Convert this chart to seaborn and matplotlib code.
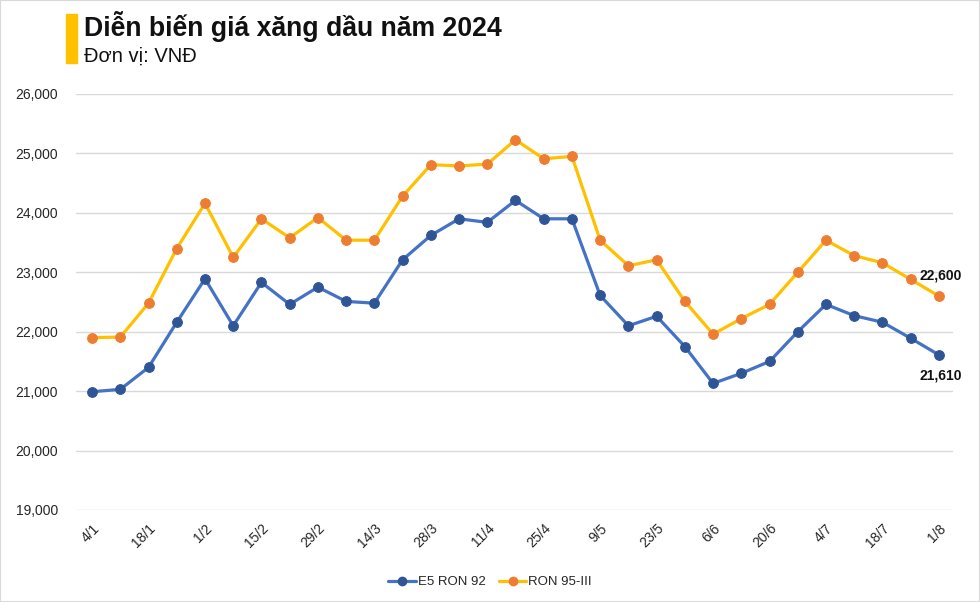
import matplotlib.pyplot as plt
import seaborn as sns
import pandas as pd
from matplotlib.lines import Line2D
from matplotlib.patches import Rectangle
from matplotlib.ticker import FuncFormatter

sns.set_theme(style="white")
plt.rcParams['font.family'] = ['Liberation Sans', 'DejaVu Sans']

# weekly price adjustments, 2024
dates = ["4/1", "11/1", "18/1", "25/1", "1/2", "8/2", "15/2", "22/2", "29/2", "7/3",
         "14/3", "21/3", "28/3", "4/4", "11/4", "18/4", "25/4", "2/5", "9/5", "16/5",
         "23/5", "30/5", "6/6", "13/6", "20/6", "27/6", "4/7", "11/7", "18/7", "25/7", "1/8"]
e5_ron92 = [20990, 21030, 21400, 22160, 22890, 22100, 22830, 22460, 22750, 22510,
            22480, 23210, 23620, 23900, 23840, 24210, 23900, 23900, 22610, 22100,
            22260, 21750, 21130, 21300, 21500, 22000, 22460, 22270, 22160, 21890, 21610]
ron95_iii = [21900, 21910, 22480, 23400, 24160, 23250, 23900, 23580, 23920, 23540,
             23540, 24280, 24810, 24790, 24820, 25230, 24910, 24950, 23540, 23110,
             23210, 22510, 21960, 22220, 22460, 23000, 23540, 23280, 23160, 22880, 22600]
series_names = ["E5 RON 92", "RON 95-III"]
yticks = list(range(19000, 26001, 1000))

df = pd.DataFrame({"pos": range(len(dates)), "date": dates,
                   "e5": e5_ron92, "ron95": ron95_iii})

blue_line, blue_mk = "#4472C4", "#2F5597"
yel_line, org_mk = "#FFC000", "#ED7D31"

fig = plt.figure(figsize=(9.8, 6.02), dpi=100)
ax = fig.add_axes([76 / 980, 1 - 510 / 602, (953 - 76) / 980, (510 - 94) / 602])

sns.lineplot(data=df, x="pos", y="e5", ax=ax, color=blue_line, lw=2.3, marker="o",
             markersize=7, markerfacecolor=blue_mk, markeredgecolor=blue_mk)
sns.lineplot(data=df, x="pos", y="ron95", ax=ax, color=yel_line, lw=2.3, marker="o",
             markersize=7, markerfacecolor=org_mk, markeredgecolor=org_mk)

ax.set_xlim(-0.57, 30.5)
ax.set_ylim(19000, 26000)
ax.set_yticks(yticks)
ax.yaxis.set_major_formatter(FuncFormatter(lambda v, p: f"{int(v):,}"))
ax.set_xticks(df["pos"][::2])
ax.set_xticklabels(df["date"][::2], rotation=45, ha="right", rotation_mode="anchor")
ax.tick_params(axis="both", length=0, labelsize=10, labelcolor="#262626")
ax.tick_params(axis="x", pad=8)
ax.tick_params(axis="y", pad=13)
ax.set_xlabel("")
ax.set_ylabel("")
ax.yaxis.grid(True, color="#D9D9D9", lw=1)
ax.xaxis.grid(False)
for s in ax.spines.values():
    s.set_visible(False)

# end labels
last = len(dates) - 1
ax.annotate(f"{ron95_iii[-1]:,}", (last, ron95_iii[-1]), xytext=(1, 15),
            textcoords="offset points", ha="center", va="center",
            fontsize=10, fontweight="bold", color="#111111")
ax.annotate(f"{e5_ron92[-1]:,}", (last, e5_ron92[-1]), xytext=(1, -15),
            textcoords="offset points", ha="center", va="center",
            fontsize=10, fontweight="bold", color="#111111")

handles = [Line2D([], [], color=blue_line, lw=2.3, marker="o", markersize=6,
                  markerfacecolor=blue_mk, markeredgecolor=blue_mk),
           Line2D([], [], color=yel_line, lw=2.3, marker="o", markersize=6,
                  markerfacecolor=org_mk, markeredgecolor=org_mk)]
fig.legend(handles, series_names, loc="center", bbox_to_anchor=(0.5, 1 - 582 / 602),
           ncol=2, frameon=False, fontsize=9.5, handlelength=2.1, columnspacing=1.0,
           handletextpad=0.15, labelcolor="#262626")

# header
fig.patches.append(Rectangle((66 / 980, 1 - 63 / 602), 11 / 980, 49 / 602,
                             transform=fig.transFigure, color="#FFC000"))
fig.text(84 / 980, 1 - 27 / 602, "Diễn biến giá xăng dầu năm 2024", fontsize=19.2,
         fontweight="bold", va="center", color="#111111")
fig.text(84 / 980, 1 - 56 / 602, "Đơn vị: VNĐ", fontsize=14.5, va="center", color="#111111")

fig.patches.append(Rectangle((0, 0), 1, 1, transform=fig.transFigure, fill=False,
                             edgecolor="#D9D9D9", lw=1.5))

fig.savefig("out.png", dpi=100)
